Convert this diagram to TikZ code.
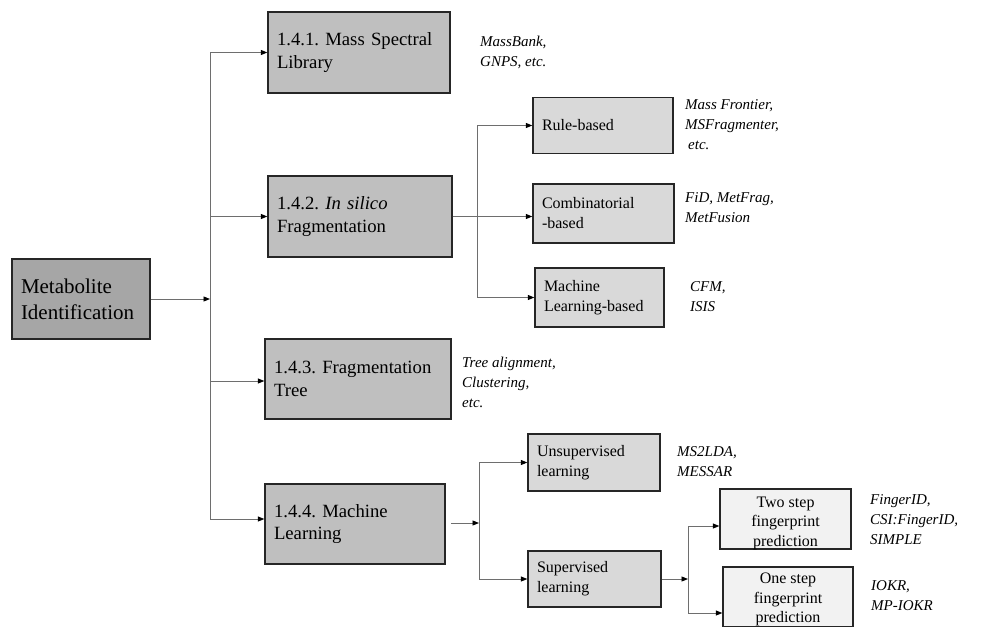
\documentclass[tikz,border=0pt]{standalone}
\usepackage{fontspec}
\setmainfont{Liberation Serif}
\usetikzlibrary{arrows.meta}
\frenchspacing

\definecolor{rootfill}{HTML}{A6A6A6}
\definecolor{topfill}{HTML}{BFBFBF}
\definecolor{subfill}{HTML}{D9D9D9}
\definecolor{leaffill}{HTML}{F2F2F2}
\definecolor{boxline}{HTML}{262626}
\definecolor{wire}{HTML}{6E6E6E}

\tikzset{
  box/.style={draw=boxline, line width=1.3pt, rectangle, inner xsep=9pt, inner ysep=0pt},
  rootbox/.style={box, fill=rootfill, align=left, font=\fontsize{21}{26}\selectfont},
  topbox/.style={box, fill=topfill, align=left, font=\fontsize{18.7}{22.5}\selectfont},
  subbox/.style={box, fill=subfill, align=left, font=\fontsize{16}{20}\selectfont},
  leafbox/.style={box, fill=leaffill},
  leaftext/.style={align=center, inner sep=0pt, font=\fontsize{16}{19.5}\selectfont},
  note/.style={anchor=west, inner sep=0pt, align=left, font=\fontsize{15}{20}\selectfont\itshape},
  wireline/.style={draw=wire, line width=0.9pt},
  feed/.style={wireline, -{Triangle[length=6.5pt, width=5pt, fill=black, color=black]}}
}

\begin{document}
\begin{tikzpicture}[x=1pt, y=-1pt]
\useasboundingbox (0,0) rectangle (992,626);
\clip (0,0) rectangle (992,626);

% root and first-level boxes
\node[rootbox, minimum width=138pt, minimum height=80pt, text width=120pt] (met) at (81,299) {Metabolite\\Identification};
\node[topbox, minimum width=182pt, minimum height=81pt, text width=164pt] (b1) at (359,52.5) {1.4.1. Mass Spectral\\Library};
\node[topbox, minimum width=184pt, minimum height=81pt, text width=166pt] (b2) at (360,216.5) {1.4.2. \textit{In silico}\\Fragmentation};
\node[topbox, minimum width=186pt, minimum height=80pt, text width=168pt] (b3) at (358,379) {1.4.3. Fragmentation\\Tree};
\node[topbox, minimum width=180pt, minimum height=80pt, text width=162pt] (b4) at (355,524) {1.4.4. Machine\\Learning};

% in silico subdivisions
\node[subbox, minimum width=140pt, minimum height=56pt, text width=122pt] (rule) at (603,125.5) {Rule-based};
\node[subbox, minimum width=141pt, minimum height=59pt, text width=123pt] (comb) at (603.5,213.5) {Combinatorial\\-based};
\node[subbox, minimum width=129pt, minimum height=59pt, text width=111pt] (mlb) at (599.5,297.5) {Machine\\Learning-based};

% machine learning subdivisions
\node[subbox, minimum width=132pt, minimum height=57pt, text width=114pt] (uns) at (594,462.5) {Unsupervised\\learning};
\node[subbox, minimum width=133pt, minimum height=56pt, text width=115pt] (sup) at (594.5,579) {Supervised\\learning};
\node[leafbox, minimum width=131pt, minimum height=60pt] (two) at (785.5,519) {};
\node[leaftext] (twotext) at (785.5,523) {Two step\\fingerprint\\prediction};
\node[leafbox, minimum width=130pt, minimum height=60pt] (one) at (788,597) {};
\node[leaftext] (onetext) at (788,599.5) {One step\\fingerprint\\prediction};

% tool examples
\node[note] (nb1) at (480,52) {MassBank,\\GNPS, etc.};
\node[note] (nrule) at (685,125) {Mass Frontier,\\MSFragmenter,\\\hspace{3pt}etc.};
\node[note] (ncomb) at (685,207.5) {FiD, MetFrag,\\MetFusion};
\node[note] (nmlb) at (690,296.5) {CFM,\\ISIS};
\node[note] (nb3) at (462,382) {Tree alignment,\\Clustering,\\etc.};
\node[note] (nuns) at (677,462) {MS2LDA,\\MESSAR};
\node[note] (ntwo) at (870,520) {FingerID,\\CSI:FingerID,\\SIMPLE};
\node[note] (none) at (871,596) {IOKR,\\MP-IOKR};

% main trunk
\coordinate (t1) at (210,52.5);
\coordinate (t2) at (210,216.5);
\coordinate (t3) at (210,381);
\coordinate (t4) at (210,519);
\path[wireline] (t1) -- (t4);
\draw[feed] (met.east) -- (met.east -| t1);
\draw[feed] (t1) -- (b1.west);
\draw[feed] (t2) -- (b2.west);
\draw[feed] (t3) -- (t3 -| b3.west);
\draw[feed] (t4) -- (t4 -| b4.west);

% in silico fork
\coordinate (f2) at (477,216.5);
\coordinate (f2a) at (477,125.5);
\coordinate (f2c) at (477,297.5);
\path[wireline] (b2.east) -- (f2);
\path[wireline] (f2a) -- (f2c);
\draw[feed] (f2a) -- (rule.west);
\draw[feed] (f2) -- (f2 -| comb.west);
\draw[feed] (f2c) -- (mlb.west);

% machine learning fork
\coordinate (f4o) at (451,523);
\coordinate (f4a) at (479,462.5);
\coordinate (f4b) at (479,579);
\draw[feed] (f4o) -- (f4o -| f4a);
\path[wireline] (f4a) -- (f4b);
\draw[feed] (f4a) -- (uns.west);
\draw[feed] (f4b) -- (sup.west);

% supervised fork
\coordinate (f5a) at (688,526);
\coordinate (f5b) at (688,613);
\draw[feed] (sup.east) -- (sup.east -| f5a);
\path[wireline] (f5a) -- (f5b);
\draw[feed] (f5a) -- (f5a -| two.west);
\draw[feed] (f5b) -- (f5b -| one.west);
\end{tikzpicture}
\end{document}
